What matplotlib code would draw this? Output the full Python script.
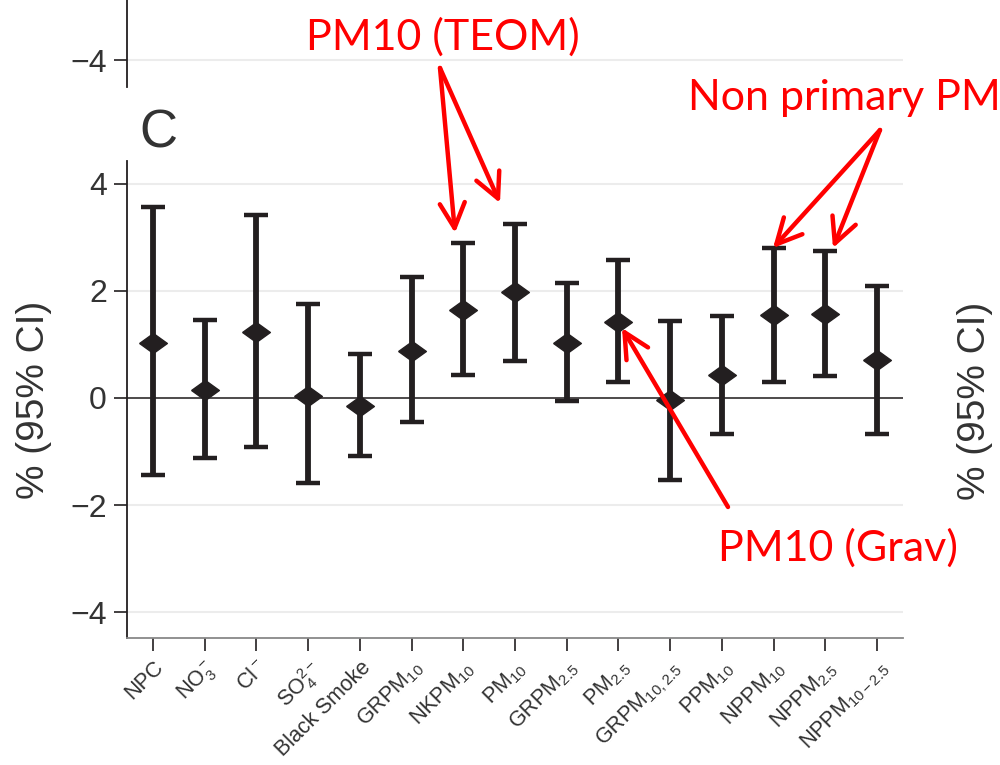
import matplotlib
matplotlib.use('Agg')
import matplotlib.pyplot as plt

plt.rcParams['font.family'] = ['Liberation Sans', 'DejaVu Sans']
plt.rcParams['mathtext.fontset'] = 'custom'
plt.rcParams['mathtext.rm'] = 'Liberation Sans'
plt.rcParams['mathtext.it'] = 'Liberation Sans:italic'
plt.rcParams['mathtext.bf'] = 'Liberation Sans:bold'

# Pollutant names (x axis)
labels = ['NPC', r'NO$_3^-$', r'Cl$^-$', r'SO$_4^{2-}$', 'Black Smoke',
          r'GRPM$_{10}$', r'NKPM$_{10}$', r'PM$_{10}$', r'GRPM$_{2.5}$', r'PM$_{2.5}$',
          r'GRPM$_{10,2.5}$', r'PPM$_{10}$', r'NPPM$_{10}$', r'NPPM$_{2.5}$', r'NPPM$_{10-2.5}$']

# % change with 95% CI
estimate = [1.03, 0.15, 1.23, 0.04, -0.16, 0.88, 1.64, 1.97, 1.03, 1.42, -0.04, 0.43, 1.54, 1.57, 0.70]
ci_low = [-1.44, -1.13, -0.91, -1.59, -1.09, -0.45, 0.43, 0.69, -0.05, 0.30, -1.54, -0.67, 0.30, 0.40, -0.67]
ci_high = [3.56, 1.46, 3.41, 1.75, 0.82, 2.26, 2.89, 3.24, 2.14, 2.57, 1.44, 1.53, 2.79, 2.75, 2.09]

W, H = 1000, 765
ink = '#231f20'
txt = '#333333'

fig = plt.figure(figsize=(10, 7.65), dpi=100)

def fx(px):
    return px / W

def fy(py):
    return 1 - py / H

# main panel C
ax = fig.add_axes([fx(127), fy(638), fx(903) - fx(127), (638 - 161) / H])
x = list(range(len(labels)))
yerr = [[e - lo for e, lo in zip(estimate, ci_low)], [hi - e for e, hi in zip(estimate, ci_high)]]
diamond = [(-1, 0), (0, 0.72), (1, 0), (0, -0.72), (-1, 0)]
ax.errorbar(x, estimate, yerr=yerr, fmt='none', ecolor=ink, elinewidth=4.2,
            capsize=8.5, capthick=3.2, zorder=3)
ax.plot(x, estimate, linestyle='none', marker=diamond, markersize=20, color=ink, zorder=4)
ax.axhline(0, color=ink, lw=1.1, zorder=2)

ax.set_xlim(-0.5, 14.5)
ax.set_ylim(-4.48, 4.42)
ax.set_yticks([-4, -2, 0, 2, 4])
ax.set_yticklabels(['\u22124', '\u22122', '0', '2', '4'])
ax.yaxis.grid(True, color='#ececec', lw=1.5)
ax.set_axisbelow(True)
ax.set_xticks(x)
ax.set_xticklabels(labels, rotation=45, ha='right', rotation_mode='anchor', fontsize=15.5, color=txt)
ax.tick_params(axis='y', labelsize=23, labelcolor=txt, length=9.5, width=1.2, pad=5, color=ink)
ax.tick_params(axis='x', length=9.5, width=1.2, pad=4, color=ink)
for s in ['top', 'right']:
    ax.spines[s].set_visible(False)
for s in ['left', 'bottom']:
    ax.spines[s].set_color(ink)
    ax.spines[s].set_linewidth(1.3)
ax.spines['bottom'].set_color('#888888')

# fragment of the panel above
ax_top = fig.add_axes([fx(127), fy(87), fx(903) - fx(127), 87 / H])
ax_top.set_xlim(-0.5, 14.5)
ax_top.set_ylim(-4.50, -2.88)
ax_top.set_yticks([-4])
ax_top.set_yticklabels(['\u22124'])
ax_top.yaxis.grid(True, color='#ececec', lw=1.5)
ax_top.set_xticks([])
ax_top.tick_params(axis='y', labelsize=23, labelcolor=txt, length=9.5, width=1.2, pad=5, color=ink)
for s in ['top', 'right', 'bottom']:
    ax_top.spines[s].set_visible(False)
ax_top.spines['left'].set_color(ink)
ax_top.spines['left'].set_linewidth(1.3)

# panel letter and axis labels
fig.text(fx(139), fy(148), 'C', fontsize=38, color=txt, ha='left', va='baseline')
fig.text(fx(34), fy(400), '% (95% CI)', fontsize=28, color=txt, rotation=90, ha='center', va='center')
fig.text(fx(975), fy(401), '% (95% CI)', fontsize=28, color=txt, rotation=90, ha='center', va='center')

# red annotations
red = '#ff0000'
afont = dict(fontsize=31, color=red, family=['Lato', 'DejaVu Sans'])
fig.text(fx(443), fy(37), 'PM10 (TEOM)', ha='center', va='center', **afont)
fig.text(fx(688), fy(98), 'Non primary PM', ha='left', va='center', **afont)
fig.text(fx(838), fy(548), 'PM10 (Grav)', ha='center', va='center', **afont)

arrow = dict(arrowstyle='->,head_length=0.9,head_width=0.45', color=red, lw=3.2,
             shrinkA=0, shrinkB=0, mutation_scale=20)
for tail, tip in [((440, 68), (455, 233)), ((440, 68), (500, 203)),
                  ((880, 130), (773, 248)), ((880, 130), (833, 248)),
                  ((728, 507), (622, 328))]:
    fig.add_artist(matplotlib.patches.FancyArrowPatch(
        (fx(tail[0]), fy(tail[1])), (fx(tip[0]), fy(tip[1])),
        transform=fig.transFigure, **arrow))

fig.savefig('out.png', dpi=100)
